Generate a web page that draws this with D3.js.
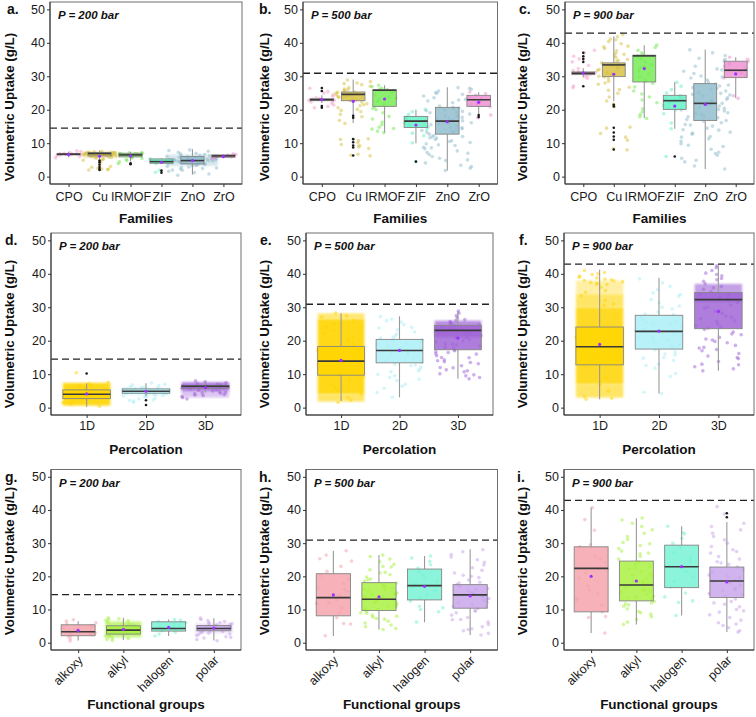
<!DOCTYPE html>
<html><head><meta charset="utf-8">
<script src="https://cdn.jsdelivr.net/npm/d3@7/dist/d3.min.js"></script>
<style>
body{margin:0;background:#fff}
svg{display:block}
text{font-family:"Liberation Sans",Arial,Helvetica,sans-serif}
</style></head>
<body><svg id="chart" width="756" height="717"></svg>
<script>
// ---------------- DATA ----------------
const families = ["CPO","Cu","IRMOF","ZIF","ZnO","ZrO"];
const percolation = ["1D","2D","3D"];
const fgroups = ["alkoxy","alkyl","halogen","polar"];
const pressures = [200, 500, 900];
const thresholds = [14.5, 30.9, 42.9];
const yTicks = [0,10,20,30,40,50];
const panelLetters = ["a.","b.","c.","d.","e.","f.","g.","h.","i."];
const xTitles = ["Families","Percolation","Functional groups"];

const famColors = ["#F39BC9","#D6C03E","#72EA4F","#5FEFC2","#8DBBCC","#EE8DCF"];
const percColors = ["#FFD400","#A8EEF6","#9D62D6"];
const funcColors = ["#F4A0AA","#A6F03C","#72F2D2","#C7A2EA"];

// box stats: [lower whisker, q1, median, q3, upper whisker]
const famStats200 = [[5.8,6.5,6.7,6.9,7.4],[5.2,6.2,6.9,7.2,7.8],[4.5,5.9,6.5,7.0,7.4],[3.8,4.0,4.5,5.3,5.5],[0.6,3.8,4.8,6.0,8.2],[5.5,5.8,6.2,6.5,6.8]];
const famMean200 = [6.6,6.1,6.2,4.3,4.8,6.0];
const famOut200 = [[],[4.8,4.3,3.6,2.9,2.3,2.0],[4.0,3.7],[1.2,1.8],[],[]];
const famStats500 = [[22.0,22.7,23.0,23.3,24.3],[16.0,22.7,24.6,25.3,29.0],[13.2,21.0,25.8,26.0,27.3],[10.0,14.7,16.6,18.0,20.0],[1.8,12.7,16.6,20.7,26.7],[18.8,21.0,23.0,24.3,25.2]];
const famMean500 = [23.0,22.5,23.2,15.4,16.4,22.2];
const famOut500 = [[26.5,25.6,21.1,20.6],[18.2,17.6,11.2,10.3,9.3,8.7,6.3],[],[4.5],[],[17.8,18.4]];
const famStats900 = [[29.6,30.5,30.9,31.3,32.4],[22.5,29.9,33.4,34.0,42.0],[17.5,28.3,36.1,36.3,39.3],[14.3,20.1,22.7,24.3,28.3],[2.3,16.8,21.9,27.8,38.0],[23.5,29.6,31.8,34.5,35.7]];
const famMean900 = [31.0,30.6,32.3,21.1,21.6,30.7];
const famOut900 = [[37.0,36.0,35.2,34.3,27.0],[21.5,21.0,14.6,13.2,12.0,11.0,8.1],[],[6.0],[],[]];

const percStats200 = [[0.3,2.7,4.0,5.3,7.2],[3.4,4.3,4.9,5.6,7.3],[4.5,5.8,6.4,6.6,7.8]];
const percMean200 = [4.1,4.9,6.0];
const percOut200 = [[10.2],[0.8,2.2],[]];
const percStats500 = [[2.0,9.7,13.9,18.3,28.2],[3.1,13.4,17.1,20.4,27.3],[8.6,17.3,23.1,24.6,28.9]];
const percMean500 = [14.1,17.1,20.8];
const percStats900 = [[2.5,12.8,18.2,24.1,41.2],[4.2,17.5,22.8,27.6,38.8],[11.0,23.6,32.3,34.4,42.5]];
const percMean900 = [18.9,22.9,28.7];

const funcStats200 = [[0.7,2.1,3.3,5.4,6.5],[0.8,2.6,3.8,5.1,7.5],[2.0,3.5,4.3,6.3,7.0],[0.7,3.6,4.3,5.2,7.4]];
const funcMean200 = [3.7,4.0,4.6,4.4];
const funcStats500 = [[2.0,8.1,13.6,20.8,27.7],[4.0,9.7,13.1,18.1,26.4],[6.2,12.9,17.2,22.2,26.1],[2.3,10.4,14.4,17.5,28.2]];
const funcMean500 = [14.4,13.8,17.0,14.1];
const funcStats900 = [[2.9,9.3,22.4,28.9,40.7],[5.5,12.6,17.4,24.6,37.5],[8.2,16.6,22.9,29.4,35.1],[3.2,13.6,18.6,22.8,36.4]];
const funcMean900 = [20.0,18.6,22.9,18.3];
const funcOut900 = [[],[],[],[37.8,39.0]];

// dense point clouds: list of [low, high, relative density] segments per group
const famCloud200 = [null,[[5.8,7.4,0.55]],null,null,[[3.2,6.6,0.35]],null];
const percCloud200 = [[[0.6,7.4,0.9]],[[3.8,6.0,0.35]],[[4.8,7.6,0.8],[3.0,4.8,0.35]]];
const percCloud500 = [[[1.8,4.0,0.6],[4.0,26.5,0.9],[26.5,28.2,0.55]],null,[[21.0,26.0,0.7]]];
const percCloud900 = [[[3.0,7.0,0.6],[7.0,30.0,0.85],[30.0,34.0,0.6],[34.0,38.0,0.35]],null,[[31.5,37.0,0.6]]];
const funcCloud200 = [null,[[1.6,6.4,0.65]],null,[[2.8,5.8,0.3]]];

// individual jittered points
const famPts200 = [
 [5.6,6.0,6.3,6.5,6.6,6.7,6.8,6.9,7.0,7.2,7.5,7.7,6.4,6.6,6.8],
 [2.0,2.1,2.3,2.5,2.8,3.0,2.2,3.4,4.3,4.6,4.9,5.1,5.3,5.5,5.7,5.9,6.0,6.1,6.2,6.3,6.4,6.5,6.6,6.7,6.8,6.9,7.0,7.1,7.2,7.3,7.4,7.5,6.6,6.8,7.0,6.9,6.7,7.1,6.5,6.2,5.8,7.2,6.9,7.0],
 [3.9,4.4,4.8,5.1,5.4,5.6,5.8,6.0,6.1,6.2,6.4,6.5,6.6,6.7,6.8,6.9,7.0,7.1,7.2,6.3,6.6,5.9,6.8,7.0,6.5],
 [1.3,1.9,3.9,4.1,4.3,4.5,4.7,4.9,5.1,5.3,4.4],
 [0.4,0.8,1.2,1.6,2.0,2.3,2.6,2.9,3.1,3.3,3.5,3.7,3.9,4.0,4.1,4.3,4.4,4.5,4.6,4.7,4.8,4.9,5.0,5.1,5.2,5.3,5.4,5.5,5.6,5.7,5.8,5.9,6.0,6.1,6.2,6.4,6.6,6.8,7.0,7.3,7.6,8.0,3.4,4.2,4.8,5.3,5.6,2.4,6.3,4.6,5.0,3.8,7.8,1.9,2.7],
 [5.4,5.6,5.8,5.9,6.0,6.1,6.2,6.3,6.4,6.6,6.8]
];
const famPts500 = [
 [20.6,21.0,21.4,21.9,22.3,22.6,22.8,23.0,23.1,23.3,23.6,24.0,24.5,25.0,25.4,26.4,22.9,23.2],
 [6.2,6.4,6.7,8.4,8.9,9.2,9.6,10.1,10.8,11.1,11.3,15.9,16.8,17.9,18.6,19.4,20.1,20.6,21.2,21.8,22.3,22.7,23.1,23.5,23.9,24.2,24.5,24.8,25.0,25.2,25.5,25.8,26.2,26.6,27.0,27.5,28.0,28.4,28.9,24.0,24.6,25.3,22.9,23.7,26.0,27.8,21.5,19.8,24.3],
 [13.1,13.6,14.2,14.8,15.5,16.3,17.2,18.0,19.1,20.0,20.8,21.6,22.4,23.1,23.8,24.5,25.1,25.6,26.0,26.4,26.9,27.3,14.4,20.4,23.5,25.8,26.2],
 [4.5,10.1,12.2,13.0,14.0,14.8,15.4,16.0,16.6,17.2,17.8,18.6,19.4,20.1],
 [1.8,2.5,3.4,4.1,4.8,5.5,6.0,6.6,7.2,7.7,8.3,8.8,9.3,9.8,10.2,10.7,11.1,11.5,11.9,12.3,12.7,13.1,13.5,13.9,14.3,14.7,15.1,15.5,15.9,16.3,16.7,17.1,17.5,17.9,18.3,18.7,19.1,19.5,19.9,20.3,20.7,21.1,21.6,22.1,22.6,23.1,23.6,24.1,24.6,25.1,25.6,26.1,26.6,10.5,12.0,13.2,14.6,15.8,16.9,18.1,19.3,20.5,11.6,13.8,16.1,17.7,19.7,8.6,22.9,24.9,26.4,9.5,7.0,5.0,3.0],
 [17.6,18.4,20.9,21.4,21.8,22.2,22.6,23.0,23.4,23.8,24.3,24.8,25.3]
];
const famPts900 = [
 [26.6,27.1,29.4,29.9,30.3,30.6,30.8,31.0,31.1,31.3,31.7,32.3,33.2,34.3,35.2,36.0,37.0,37.8,30.9],
 [8.0,8.3,10.9,11.8,12.9,14.5,14.8,20.9,21.6,22.6,23.8,24.9,25.8,26.7,27.6,28.5,29.3,30.0,30.6,31.2,31.8,32.3,32.8,33.2,33.6,34.0,34.5,35.0,35.6,36.2,36.9,37.6,38.3,39.0,39.7,40.4,41.1,41.8,42.4,33.0,32.0,31.0,34.8,29.8,36.6,28.0,26.0,38.8,40.9],
 [17.4,17.9,18.6,19.4,20.3,22.1,22.9,23.8,24.7,25.6,26.8,27.9,28.9,29.8,30.7,31.6,32.5,33.4,34.3,35.2,35.9,36.4,37.0,37.8,38.6,39.3,28.5,33.0,36.1],
 [6.0,14.3,16.0,18.8,19.9,20.6,21.3,22.0,22.6,23.1,23.6,24.2,25.0,26.0,27.0,28.2,22.8],
 [2.3,3.2,4.4,5.5,6.4,7.3,8.2,9.0,9.8,10.6,11.3,12.0,12.7,13.3,13.9,14.5,15.1,15.6,16.1,16.6,17.1,17.6,18.1,18.6,19.1,19.6,20.1,20.6,21.1,21.6,22.1,22.6,23.1,23.6,24.1,24.6,25.1,25.6,26.1,26.6,27.1,27.7,28.3,28.9,29.5,30.1,30.8,31.5,32.2,33.0,33.8,34.6,35.4,36.2,37.0,37.9,14.0,16.8,18.9,20.4,21.9,23.4,24.9,26.4,17.9,19.9,22.4,24.4,13.0,15.4,27.4,11.8,29.8,9.4,31.9,6.9,35.0,4.9],
 [23.4,24.2,29.5,30.1,30.8,31.4,31.9,32.4,33.0,33.7,34.4,35.1,35.7]
];
const percPts200 = [
 [10.4,0.4,7.6,7.2,1.0,2.0,3.0,4.0,5.0,6.0,6.8,1.5,2.5,3.5,4.5,5.5,6.5],
 [1.6,2.0,2.3,2.6,2.9,3.2,3.5,3.7,3.9,4.1,4.3,4.4,4.5,4.6,4.7,4.8,4.9,5.0,5.1,5.2,5.3,5.4,5.5,5.6,5.7,5.9,6.1,6.3,6.6,7.0,7.4,4.2,4.6,5.0,5.3,4.8,5.8,3.3,6.8,2.1,4.0,5.5,4.9],
 [2.6,3.0,3.3,3.6,3.9,4.1,4.3,4.5,4.7,5.0,5.3,5.6,5.9,6.2,6.5,6.8,7.1,7.4,7.7,8.0,6.0,6.4,6.6,5.8,7.0,3.8,4.4,5.2]
];
const percPts500 = [
 [1.6,28.3,27.5,2.2,3.0,5.0,7.0,9.0,11.0,13.0,15.0,17.0,19.0,21.0,23.0,25.0,27.0,4.0,6.0,8.0,10.0,12.0,14.0,16.0,18.0,20.0,22.0,24.0,26.0],
 [3.1,4.5,5.8,7.0,8.1,9.0,9.9,10.7,11.4,12.1,12.8,13.4,14.0,14.6,15.2,15.8,16.3,16.8,17.3,17.8,18.3,18.8,19.3,19.8,20.3,20.8,21.4,22.0,22.6,23.3,24.0,24.8,25.6,26.4,27.2,11.0,13.0,15.0,16.0,17.0,18.0,19.0,20.0,12.5,14.5,21.0,23.8,26.0,9.5,8.5,6.4],
 [8.6,9.0,9.5,10.1,10.7,11.3,11.9,12.5,13.1,13.7,14.3,14.9,15.5,16.1,16.7,17.3,17.9,18.5,19.1,19.7,20.3,20.9,21.5,22.1,22.7,23.3,23.9,24.5,25.1,25.7,26.3,26.9,27.5,28.2,28.9,12.0,14.0,15.0,16.0,17.0,18.0,19.0,20.0,21.0,22.0,13.5,16.5,18.8,11.0,9.8,24.8,25.4,26.0,23.6]
];
const percPts900 = [
 [2.5,36.8,37.2,37.6,38.0,38.4,38.8,39.3,39.8,40.4,41.0,37.4,38.2,36.9,39.0,37.9,40.0,2.8,3.3,35.0,33.5,32.0,31.0,36.0,34.5,30.5,5.0,7.0,9.0,12.0,15.0,18.0,21.0,24.0,27.0],
 [4.2,4.6,9.3,10.2,11.8,13.0,14.1,15.0,15.8,16.6,17.3,18.0,18.7,19.4,20.1,20.8,21.5,22.2,22.9,23.6,24.3,25.0,25.7,26.4,27.1,27.8,28.6,29.5,30.4,31.3,32.3,33.3,34.3,35.3,36.3,37.3,38.5,16.0,18.5,21.0,23.0,25.5,28.0,30.0,33.8,14.8,12.6,20.3,24.8],
 [11.0,11.6,12.2,13.0,13.8,14.6,15.4,16.2,17.0,17.8,18.6,19.4,20.2,21.0,21.8,22.6,23.4,24.2,25.0,25.8,26.6,27.4,28.2,29.0,29.8,30.6,31.4,32.2,33.0,33.8,34.6,35.4,36.2,37.0,37.8,38.6,39.4,40.2,41.0,41.8,42.4,15.0,18.0,20.5,22.0,24.5,26.0,28.8,30.0,32.6,34.0,35.8,17.4,19.8,23.8,27.0,12.8,38.2,39.8]
];
const funcPts200 = [
 [0.5,1.2,1.8,2.2,2.6,3.0,3.3,3.6,4.0,4.4,4.8,5.2,5.6,6.0,6.5,6.9,3.4,2.4,5.0],
 [0.7,1.0,1.3,1.5,6.6,6.8,7.0,7.2,7.5,2.0,2.8,3.5,4.2,4.9,5.6,6.2,1.8,3.1,4.5,5.3,3.8,2.4],
 [2.0,2.6,3.2,3.6,3.9,4.2,4.5,4.8,5.2,5.6,6.0,6.4,6.8,7.0,4.0,4.3],
 [0.6,1.0,1.4,1.8,2.2,2.6,2.9,3.2,3.5,3.7,3.9,4.1,4.3,4.5,4.7,4.9,5.1,5.3,5.5,5.8,6.1,6.4,6.7,7.0,7.4,4.0,4.4,4.8,5.2,3.4,3.0,6.0,2.4,5.6,1.6,4.2,4.6]
];
const funcPts500 = [
 [2.1,5.6,5.8,7.5,9.0,10.5,11.8,13.0,14.2,15.4,16.6,17.8,19.0,20.2,21.5,23.0,24.6,25.3,26.4,27.7,12.0,16.0],
 [4.0,4.3,4.8,5.3,5.9,6.5,7.1,7.7,8.3,8.9,9.4,9.9,10.4,10.9,11.4,11.9,12.4,12.9,13.4,13.9,14.4,14.9,15.4,15.9,16.4,16.9,17.4,18.0,18.6,19.2,19.8,20.5,21.2,22.0,22.8,23.6,24.4,25.2,26.0,26.4,10.0,11.0,12.0,13.0,14.0,15.0,16.0,17.0,9.0,8.0,19.0,21.0,23.0,7.3,12.6,14.6],
 [6.2,9.3,10.0,11.0,12.5,13.5,14.5,15.5,16.5,17.5,18.5,19.5,20.5,21.5,22.5,23.5,24.5,25.5,26.1,10.5],
 [2.3,2.8,3.6,4.2,4.8,5.5,6.2,6.9,7.6,8.3,9.0,9.7,10.3,10.9,11.5,12.1,12.7,13.3,13.9,14.5,15.1,15.7,16.3,16.9,17.5,18.2,18.9,19.6,20.3,21.0,21.8,22.6,23.4,24.2,25.0,25.8,26.6,27.4,28.0,12.0,14.0,16.0,13.0,15.0,11.0,18.0,20.0,9.5,7.0,4.0]
];
const funcPts900 = [
 [2.9,7.6,7.9,9.3,11.4,12.9,13.3,14.8,17.0,19.5,22.3,24.3,25.2,26.0,28.9,29.5,33.9,37.1,40.7,21.0,15.9],
 [5.5,6.2,7.0,7.8,8.6,9.4,10.2,11.0,11.7,12.4,13.1,13.8,14.5,15.2,15.9,16.6,17.3,18.0,18.7,19.4,20.1,20.8,21.5,22.2,22.9,23.6,24.4,25.2,26.0,26.8,27.6,28.4,29.3,30.2,31.1,32.0,33.0,34.0,35.0,36.0,37.0,37.6,12.0,14.0,16.0,18.4,20.5,24.0,27.0,13.5,15.5,17.8,22.5,9.0,11.4,29.8],
 [8.2,12.1,12.6,13.8,15.0,16.8,18.5,20.0,21.5,23.0,24.5,25.5,27.0,28.5,30.0,31.5,32.8,33.2,35.1],
 [3.2,3.6,4.5,5.2,6.0,6.8,7.6,8.4,9.2,10.0,10.8,11.6,12.4,13.2,14.0,14.8,15.6,16.4,17.2,18.0,18.8,19.6,20.4,21.2,22.0,22.8,23.6,24.4,25.2,26.0,27.0,28.0,29.0,30.0,31.0,32.0,33.0,34.0,35.0,36.0,38.8,41.0,16.0,18.5,20.0,14.5,12.0,24.0,27.5,9.6,5.6]
];

// ---------------- LAYOUT ----------------
const rowTop = [2, 233, 469.5];
const rowH = [182, 182, 180.5];
const colX = [[[50,242],[303,497.5],[565,754]],
              [[51,241],[306,493],[564,754]],
              [[51,241],[306,497.5],[564,754]]];
const letterX = [[7,259,519],[5,260,519],[5,259,517]];
const yTitleX = [9.5,264.5,522.5];
const yTitleC = [107,334,561];

const rows = [
 {cats:families, colors:famColors, boxW:0.75, jit:[0.42,0.55,0.42,0.42,0.82,0.42],
  stats:[famStats200,famStats500,famStats900], means:[famMean200,famMean500,famMean900],
  outs:[famOut200,famOut500,famOut900], pts:[famPts200,famPts500,famPts900],
  clouds:[famCloud200,null,null], rot:false},
 {cats:percolation, colors:percColors, boxW:0.8, jit:[0.4,0.4,0.4],
  stats:[percStats200,percStats500,percStats900], means:[percMean200,percMean500,percMean900],
  outs:[percOut200,null,null], pts:[percPts200,percPts500,percPts900],
  clouds:[percCloud200,percCloud500,percCloud900], rot:false},
 {cats:fgroups, colors:funcColors, boxW:0.75, jit:[0.4,0.4,0.4,0.42],
  stats:[funcStats200,funcStats500,funcStats900], means:[funcMean200,funcMean500,funcMean900],
  outs:[null,null,funcOut900], pts:[funcPts200,funcPts500,funcPts900],
  clouds:[funcCloud200,null,null], rot:true}
];

// deterministic jitter offset in [-1,1] (position only)
function jitter(i, g, p){
  const s = Math.sin(i*12.9898 + g*78.233 + p*37.719)*43758.5453;
  return (s - Math.floor(s))*2 - 1;
}

const svg = d3.select("#chart");
svg.append("rect").attr("width",756).attr("height",717).attr("fill","#fff");
const defs = svg.append("defs");
defs.append("filter").attr("id","soft").attr("x","-20%").attr("y","-20%").attr("width","140%").attr("height","140%")
  .append("feGaussianBlur").attr("stdDeviation",1.2);

rows.forEach((R, r) => {
  pressures.forEach((P, c) => {
    const [L, Rt] = colX[r][c];
    const top = rowTop[r], H = rowH[r], bot = top + H;
    const y = d3.scaleLinear().domain([-2.2, 52.2]).range([bot, top]);
    const x = d3.scalePoint().domain(R.cats).range([L, Rt]).padding(0.6);
    const step = x.step();
    const g = svg.append("g");
    const clipId = `clip${r}${c}`;
    defs.append("clipPath").attr("id",clipId).append("rect")
      .attr("x",L).attr("y",top).attr("width",Rt-L).attr("height",H);

    g.append("rect").attr("x",L).attr("y",top).attr("width",Rt-L).attr("height",H).attr("fill","#fff");
    const plot = g.append("g").attr("clip-path",`url(#${clipId})`);

    const stats = R.stats[c], means = R.means[c], outs = R.outs[c], pts = R.pts[c], clouds = R.clouds[c];

    // dense clouds (soft-edged)
    if (clouds) clouds.forEach((segs, k) => {
      if (!segs) return;
      const cx = x(R.cats[k]), hw = R.jit[k]*step;
      segs.forEach(s => {
        plot.append("rect").attr("x",cx-hw).attr("width",2*hw)
          .attr("y",y(s[1])).attr("height",y(s[0])-y(s[1]))
          .attr("fill",R.colors[k]).attr("opacity",s[2]).attr("filter","url(#soft)");
      });
    });
    // jittered points
    pts.forEach((arr, k) => {
      const cx = x(R.cats[k]), hw = R.jit[k]*step;
      plot.selectAll(null).data(arr).enter().append("circle")
        .attr("cx",(d,i)=>cx + jitter(i,k,r*3+c)*hw)
        .attr("cy",d=>y(d)).attr("r",1.8)
        .attr("fill",R.colors[k]).attr("opacity",0.5);
    });
    // boxes
    stats.forEach((s, k) => {
      const cx = x(R.cats[k]), bw = R.boxW*step;
      plot.append("line").attr("x1",cx).attr("x2",cx).attr("y1",y(s[0])).attr("y2",y(s[1]))
        .attr("stroke","#999").attr("stroke-width",1.1);
      plot.append("line").attr("x1",cx).attr("x2",cx).attr("y1",y(s[3])).attr("y2",y(s[4]))
        .attr("stroke","#999").attr("stroke-width",1.1);
      plot.append("rect").attr("x",cx-bw/2).attr("width",bw)
        .attr("y",y(s[3])).attr("height",Math.max(0.5,y(s[1])-y(s[3])))
        .attr("fill",R.colors[k]).attr("fill-opacity",0.82)
        .attr("stroke","#858585").attr("stroke-width",0.9);
      plot.append("line").attr("x1",cx-bw/2).attr("x2",cx+bw/2).attr("y1",y(s[2])).attr("y2",y(s[2]))
        .attr("stroke","#3a3a3a").attr("stroke-width",1.6);
    });
    // outliers
    if (outs) outs.forEach((arr, k) => {
      const cx = x(R.cats[k]);
      plot.selectAll(null).data(arr).enter().append("circle")
        .attr("cx",cx).attr("cy",d=>y(d)).attr("r",1.3).attr("fill","#1a1a1a");
    });
    // means
    plot.selectAll(null).data(means).enter().append("circle")
      .attr("cx",(d,k)=>x(R.cats[k])).attr("cy",d=>y(d)).attr("r",1.6).attr("fill","#9b30ff");

    // threshold
    plot.append("line").attr("x1",L).attr("x2",Rt).attr("y1",y(thresholds[c])).attr("y2",y(thresholds[c]))
      .attr("stroke","#222").attr("stroke-width",1.3).attr("stroke-dasharray","7,4");

    // panel border
    g.append("rect").attr("x",L).attr("y",top).attr("width",Rt-L).attr("height",H)
      .attr("fill","none").attr("stroke","#6e6e6e").attr("stroke-width",1);

    // y axis
    const ya = g.append("g").attr("transform",`translate(${L},0)`)
      .call(d3.axisLeft(y).tickValues(yTicks).tickSize(3).tickPadding(2).tickFormat(d3.format("d")));
    ya.select(".domain").attr("stroke","#333").attr("d",`M0,${top}V${bot}`);
    ya.selectAll(".tick line").attr("stroke","#333");
    ya.selectAll(".tick text").attr("font-size",12.5).attr("fill","#1a1a1a")
      .style("font-family","'Liberation Sans',Arial,sans-serif");

    // x axis
    const xa = g.append("g").attr("transform",`translate(0,${bot})`)
      .call(d3.axisBottom(x).tickSize(3).tickPadding(3));
    xa.select(".domain").attr("stroke","#333").attr("d",`M${L},0H${Rt}`);
    xa.selectAll(".tick line").attr("stroke","#333");
    const xt = xa.selectAll(".tick text").attr("font-size",12.5).attr("fill","#1a1a1a")
      .style("font-family","'Liberation Sans',Arial,sans-serif");
    if (R.rot) {
      xt.attr("text-anchor","end").attr("dy",null).attr("y",0)
        .attr("transform","translate(5,11) rotate(-45)");
    } else {
      xt.attr("dy",null).attr("y",r===0?17:15);
    }

    // pressure label
    g.append("text").attr("x",L+8).attr("y",top+17)
      .attr("font-size",11.5).attr("font-weight","bold").attr("font-style","italic")
      .attr("fill","#111").text(`P = ${P} bar`);

    // panel letter
    g.append("text").attr("x",letterX[r][c]).attr("y",top+12)
      .attr("font-size",14).attr("font-weight","bold").attr("fill","#111")
      .text(panelLetters[r*3+c]);

    // y title
    g.append("text").attr("transform",`translate(${yTitleX[c]+4.5},${yTitleC[r]}) rotate(-90)`)
      .attr("text-anchor","middle").attr("font-size",13.3).attr("font-weight","bold").attr("fill","#111")
      .text("Volumetric Uptake (g/L)");

    // x title
    const xtY = [223, 454, 709][r];
    g.append("text").attr("x",(L+Rt)/2).attr("y",xtY).attr("text-anchor","middle")
      .attr("font-size",13.5).attr("font-weight","bold").attr("fill","#111").text(xTitles[r]);
  });
});
</script></body></html>
